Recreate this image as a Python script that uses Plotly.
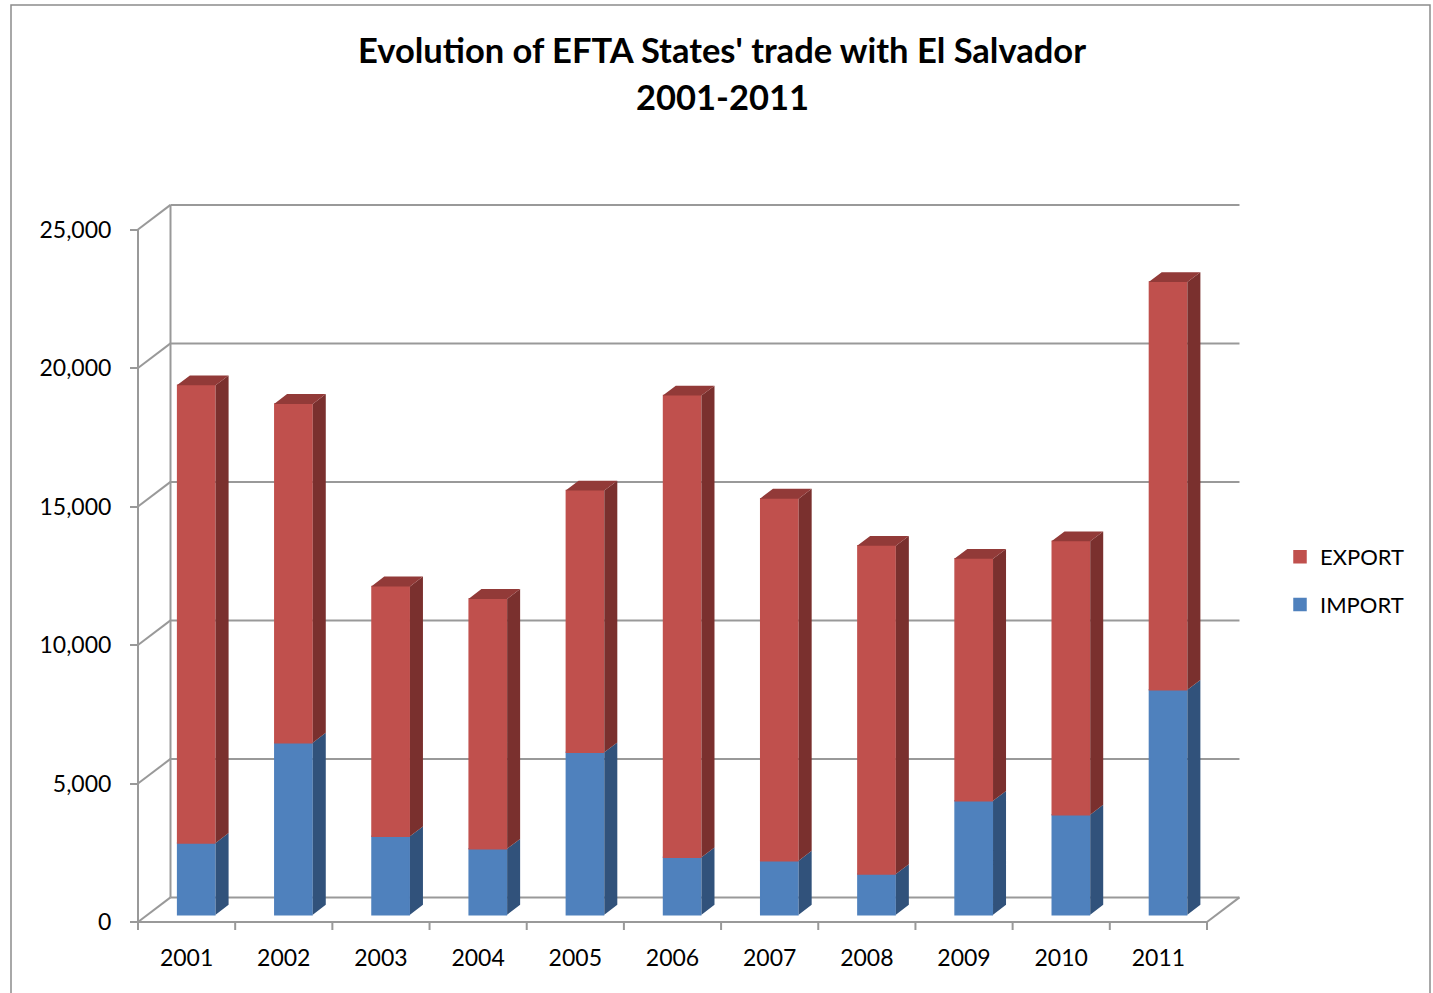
import plotly.graph_objects as go

# ---------------- data ----------------
years = ['2001', '2002', '2003', '2004', '2005', '2006', '2007', '2008', '2009', '2010', '2011']
import_vals = [2590, 6210, 2830, 2380, 5860, 2070, 1950, 1470, 4110, 3610, 8120]
export_vals = [16520, 12230, 9020, 9020, 9450, 16670, 13070, 11850, 8740, 9870, 14720]
y_ticks = [0, 5000, 10000, 15000, 20000, 25000]

# ---------------- geometry (pixels -> data units) ----------------
W, H = 1433, 993
L, R, T, B = 120, 1260, 190, 940          # plot area in pixels
X0_PX, Y0_PX = 138.0, 922.0               # front origin pixel
PX_PER_X = 97.18
PX_PER_Y = 138.5 / 5000


def dx(px):
    return px / PX_PER_X


def dy(px):
    return px / PX_PER_Y


def paper(px, py):
    return (px - L) / (R - L), (B - py) / (B - T)


xrange = [(L - X0_PX) / PX_PER_X, (R - X0_PX) / PX_PER_X]
yrange = [(Y0_PX - B) / PX_PER_Y, (Y0_PX - T) / PX_PER_Y]

WX, WY = dx(32.5), dy(24.6)        # depth of the 3D box
F0, FD = 0.297, 0.40               # bar front plane / bar depth (fractions)
SX, SY = F0 * WX, F0 * WY
DDX, DDY = FD * WX, FD * WY
EDGE = 1.5                          # outline width (same colour as fill)
BW = dx(38.7 - EDGE)
BWF = dx(38.7)                      # full visual width incl. outline

n = len(years)
centers = [i + 0.5 for i in range(n)]
bx = [c + SX for c in centers]

BLUE, BLUE_SIDE = '#4F81BD', '#31527B'
RED, RED_SIDE, RED_TOP = '#C0504D', '#7A302E', '#923A38'
GRID = '#999999'
FONT = 'Lato'

fig = go.Figure()

fig.add_trace(go.Bar(
    name='IMPORT', x=bx, y=import_vals, base=[SY] * n, width=BW,
    marker=dict(color=BLUE, line=dict(width=EDGE, color=BLUE)), legendgroup='imp', legendrank=2,
))
fig.add_trace(go.Bar(
    name='EXPORT', x=bx, y=export_vals, base=[SY + v for v in import_vals], width=BW,
    marker=dict(color=RED, line=dict(width=EDGE, color=RED)), legendgroup='exp', legendrank=1,
))


def poly_trace(xs, ys, color):
    return go.Scatter(x=xs, y=ys, mode='lines', fill='toself', fillcolor=color,
                      line=dict(width=0, color=color), showlegend=False,
                      hoverinfo='skip')


# side faces of import
xs, ys = [], []
for x, v in zip(bx, import_vals):
    rx = x + BWF / 2
    xs += [rx, rx + DDX, rx + DDX, rx, None]
    ys += [SY, SY + DDY, SY + DDY + v, SY + v, None]
fig.add_trace(poly_trace(xs, ys, BLUE_SIDE))

# side faces of export
xs, ys = [], []
for x, vi, ve in zip(bx, import_vals, export_vals):
    rx = x + BWF / 2
    b0 = SY + vi
    b1 = SY + vi + ve
    xs += [rx, rx + DDX, rx + DDX, rx, None]
    ys += [b0, b0 + DDY, b1 + DDY, b1, None]
fig.add_trace(poly_trace(xs, ys, RED_SIDE))

# top faces of export
xs, ys = [], []
for x, vi, ve in zip(bx, import_vals, export_vals):
    lx, rx = x - BWF / 2, x + BWF / 2
    t = SY + vi + ve
    xs += [lx, lx + DDX, rx + DDX, rx, None]
    ys += [t, t + DDY, t + DDY, t, None]
fig.add_trace(poly_trace(xs, ys, RED_TOP))

# ---------------- walls / grid (shapes) ----------------
shapes = []


def seg(x0, y0, x1, y1, w=2, color=GRID):
    shapes.append(dict(type='line', xref='x', yref='y', x0=x0, y0=y0, x1=x1, y1=y1,
                       line=dict(color=color, width=w), layer='below'))


for v in y_ticks:
    seg(WX, v + WY, n + WX, v + WY)        # back wall gridline
    seg(0, v, WX, v + WY)                  # left wall oblique
seg(WX, WY, WX, y_ticks[-1] + WY)          # back-left vertical edge
seg(0, 0, 0, y_ticks[-1])                  # front value axis
seg(0, 0, n, 0)                            # front floor line
seg(n, 0, n + WX, WY)                      # right floor connector
for k in range(n + 1):
    seg(k, 0, k, -dy(8))                   # category boundary ticks

# chart border
bx0, by0 = paper(11, 5)
bx1, by1 = paper(1430, 1000)
shapes.append(dict(type='rect', xref='paper', yref='paper', x0=bx0, y0=by1, x1=bx1, y1=by0,
                   line=dict(color='#8c8c8c', width=1.5), fillcolor='rgba(0,0,0,0)', layer='below'))

# ---------------- title ----------------
annotations = []
for text, py in [("Evolution of EFTA States' trade with El Salvador", 50), ("2001-2011", 96)]:
    ax, ay = paper(722, py)
    annotations.append(dict(text='<b>' + text + '</b>', x=ax, y=ay, xref='paper', yref='paper',
                            xanchor='center', yanchor='middle', showarrow=False,
                            font=dict(family=FONT, size=34.5, color='black')))

lx, ly = paper(1280, 581)

fig.update_layout(
    width=W, height=H,
    margin=dict(l=L, r=W - R, t=T, b=H - B, pad=0),
    paper_bgcolor='white', plot_bgcolor='white',
    barmode='overlay',
    showlegend=True,
    legend=dict(x=lx, y=ly, xanchor='left', yanchor='middle',
                traceorder='grouped', tracegroupgap=16,
                font=dict(family=FONT, size=22, color='black'),
                bgcolor='rgba(0,0,0,0)'),
    shapes=shapes,
    annotations=annotations,
    xaxis=dict(range=xrange, anchor='free', position=(B - Y0_PX) / (B - T),
               tickvals=centers, ticktext=years, ticks='', showline=False,
               showgrid=False, zeroline=False, ticklabelstandoff=20,
               tickfont=dict(family=FONT, size=23, color='black'), fixedrange=True),
    yaxis=dict(range=yrange, anchor='free', position=(X0_PX - L) / (R - L), side='left',
               tickvals=y_ticks, tickformat=',', ticks='outside', ticklen=8, tickwidth=2,
               tickcolor=GRID, showline=False, showgrid=False, zeroline=False,
               ticklabelstandoff=14,
               tickfont=dict(family=FONT, size=23, color='black'), fixedrange=True),
)

fig.write_html("out.html", config={'displayModeBar': False},
               post_script="document.body.style.margin='0';")
